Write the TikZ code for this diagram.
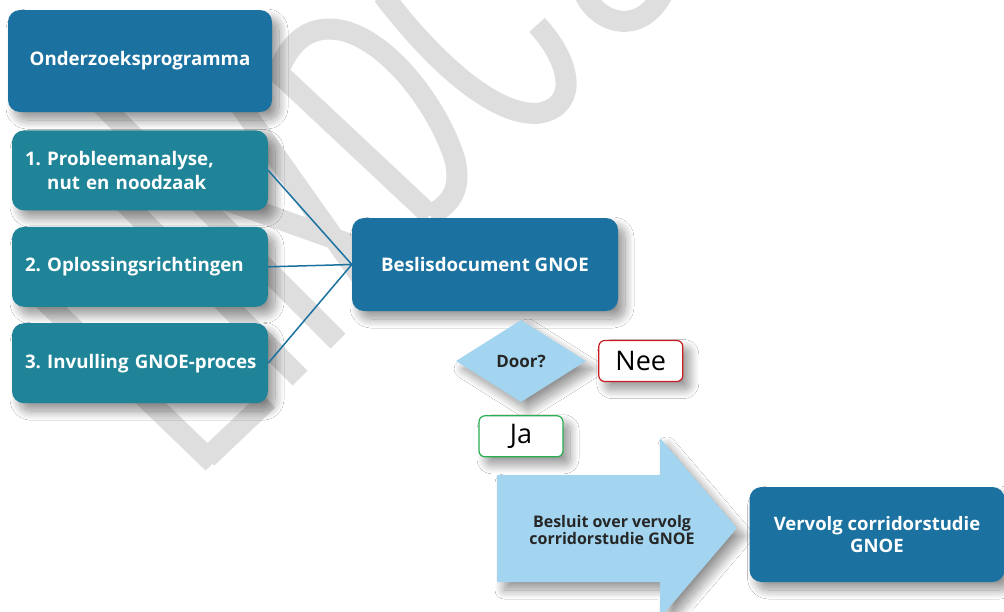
\documentclass[tikz,border=0pt]{standalone}
\usepackage{fontspec}
\setmainfont{Open Sans}
\frenchspacing
\usetikzlibrary{positioning, shapes.geometric, shadows.blur}
\definecolor{gnoeblue}{RGB}{27,114,160}
\definecolor{gnoeteal}{RGB}{31,132,152}
\definecolor{gnoesky}{RGB}{163,213,240}
\definecolor{neered}{RGB}{200,30,35}
\definecolor{jagreen}{RGB}{40,175,80}
\definecolor{markgray}{RGB}{222,222,222}
\tikzset{
    x=1pt, y=-1pt, % one unit is one pixel of the layout, y runs down
    node distance=16pt, % gap between the stacked boxes
    softshadow/.style={blur shadow={shadow xshift=7pt, shadow yshift=-8pt, shadow blur radius=9pt, shadow blur steps=20, shadow opacity=42}}, % grey shadow to the lower right
    bluebox/.style={rounded corners=12pt, fill=gnoeblue, text=white, font=\bfseries\fontsize{18.7}{24}\selectfont, align=center, softshadow},
    stepbox/.style={bluebox, fill=gnoeteal, minimum width=256pt, minimum height=80pt, text width=230pt, inner xsep=13pt, align=left},
    answer/.style={draw, line width=1.2pt, rounded corners=6pt, fill=white, minimum width=84pt, minimum height=41pt, inner sep=0pt, font=\fontsize{27}{30}\selectfont, softshadow},
    watermark/.style={draw=markgray, line width=21pt},
    link/.style={draw=gnoeblue, line width=1.5pt},
}

\begin{document}
\begin{tikzpicture}
    \path[use as bounding box, fill=white] (0,0) rectangle (1004,611);
    % watermark behind the chart
    \draw[watermark] (20,277) -- (213,463) (60,138) -- (300,378) (100,103) -- (338,341) (207,458) -- (268,400)
        (215,70) -- (360,275) (150,173) -- (352,245) (270,65) -- (430,215);
    \draw[watermark] (277,75) .. controls (290,40) and (310,25) .. (340,30) .. controls (390,40) and (440,110) .. (455,160) .. controls (462,190) and (450,205) .. (430,215);
    \draw[watermark] (383,-5) .. controls (440,70) and (500,118) .. (540,113) .. controls (580,105) and (570,60) .. (537,25);
    \draw[watermark] (585,-5) .. controls (600,25) and (640,35) .. (662,-5);

    \node[bluebox, minimum width=264pt, minimum height=102pt] (prog) at (140,61) {Onderzoeksprogramma};
    \node[stepbox, below=18pt of prog] (p1) {1. Probleemanalyse,\\\phantom{1. }nut en noodzaak};
    \node[stepbox, below=of p1] (p2) {2. Oplossingsrichtingen};
    \node[stepbox, below=of p2] (p3) {\mbox{3. Invulling GNOE-proces}};
    \node[bluebox, minimum width=266pt, minimum height=93pt] (besl) at (485,264.5) {Beslisdocument GNOE};
    \draw[link] (p1.east) -- (besl.west) (p2.east) -- (besl.west) (p3.east) -- (besl.west);

    \node[diamond, fill=gnoesky, minimum width=130pt, minimum height=82pt, inner sep=0pt, text=black!85, font=\bfseries\fontsize{17}{20}\selectfont, softshadow] (door) at (521,361) {Door?};
    \node[answer, draw=neered, right=12pt of door] (nee) {Nee};
    \node[answer, draw=jagreen, below=13pt of door] (ja) {Ja};

    \fill[gnoesky, softshadow] (497,475) -- (660,475) -- (660,438) -- (737,528) -- (660,618) -- (660,582) -- (497,582) -- cycle;
    \node[align=center, text=black!85, font=\bfseries\fontsize{16}{15.5}\selectfont] (besluit) at (612,530) {Besluit over vervolg\\corridorstudie GNOE};
    \node[bluebox, minimum width=255pt, minimum height=95pt, font=\bfseries\fontsize{18.5}{22}\selectfont] (verv) at (877,534.5) {Vervolg corridorstudie\\GNOE};
\end{tikzpicture}
\end{document}
